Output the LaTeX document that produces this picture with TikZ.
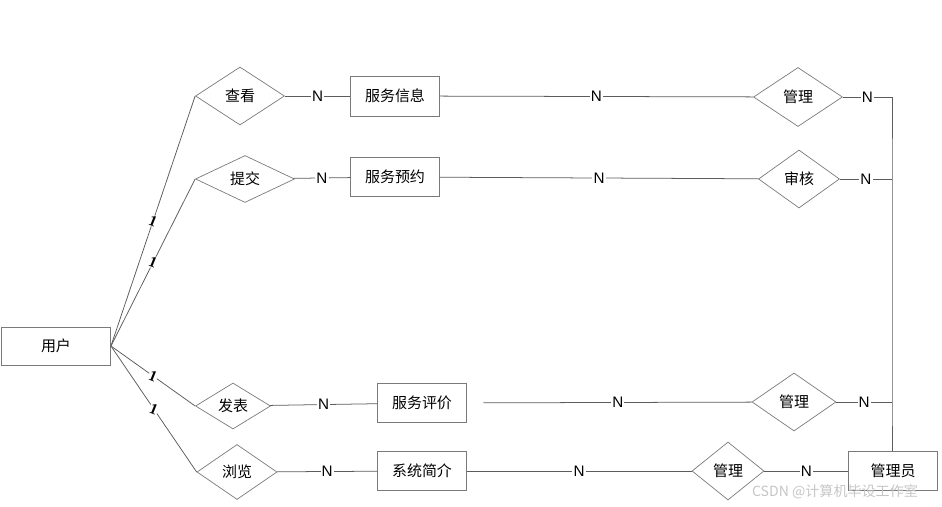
\documentclass[tikz,border=0pt]{standalone}
\usepackage{fontspec}
\usetikzlibrary{shapes.geometric}
\newfontfamily\cjk{Noto Sans CJK SC}
\newfontfamily\nfont{Liberation Sans}
\newfontfamily\onefont{Liberation Serif}
\definecolor{linegray}{rgb}{0.36, 0.36, 0.36}
\definecolor{boxgray}{rgb}{0.48, 0.48, 0.48}
\tikzstyle{entity} = [rectangle, minimum width=2.65cm, minimum height=1.18cm, text centered, draw=boxgray, line width=0.75pt, font=\cjk\fontsize{12.8}{15}\selectfont]
\tikzstyle{relation} = [diamond, aspect=1.6, inner sep=0pt, text centered, draw=boxgray, line width=0.6pt, font=\cjk\fontsize{12.8}{15}\selectfont]
\tikzstyle{line} = [draw=linegray, line width=0.65pt]
\tikzstyle{many} = [fill=white, inner sep=1pt, font=\nfont\fontsize{13}{13}\selectfont]
\tikzstyle{one} = [fill=white, inner sep=0.5pt, rotate=-22, font=\onefont\bfseries\fontsize{13}{13}\selectfont]

\begin{document}
\begin{tikzpicture}[x=0.03cm, y=-0.03cm]
\useasboundingbox (0,0) rectangle (942,507);

% Nodes
\node (user) [entity, minimum width=3.27cm, minimum height=1.14cm] at (56,346) {用户};

\node (look) [relation, minimum width=2.67cm, minimum height=1.74cm] at (240,96) {查看};
\node (submit) [relation, minimum width=2.97cm, minimum height=1.41cm] at (245,179) {提交};
\node (publish) [relation, minimum width=2.25cm, minimum height=1.38cm] at (233,406) {发表};
\node (browse) [relation, minimum width=2.4cm, minimum height=1.65cm] at (237,472) {浏览};

\node (info) [entity, minimum height=1.2cm] at (395,96) {服务信息};
\node (booking) [entity] at (395,177) {服务预约};
\node (review) [entity] at (422,403) {服务评价};
\node (intro) [entity] at (422,471) {系统简介};

\node (manage1) [relation, minimum width=2.67cm, minimum height=1.77cm] at (798,97) {管理};
\node (audit) [relation, minimum width=2.43cm, minimum height=1.74cm] at (799,179) {审核};
\node (manage3) [relation, minimum width=2.52cm, minimum height=1.74cm] at (794,402) {管理};
\node (manage4) [relation, minimum width=2.16cm, minimum height=1.74cm] at (728,471) {管理};

\node (admin) [entity] at (893,471) {管理员};

\coordinate (anchor1) at (892,97);
\coordinate (anchor2) at (892,179);
\coordinate (anchor3) at (892,402);

% Arrows
\draw [line] (user.east) -- node[one] {1} (look.west);
\draw [line] (user.east) -- node[one] {1} (submit.west);
\draw [line] (user.east) -- node[one] {1} (publish.west);
\draw [line] (user.east) -- node[one] {1} (browse.west);

\draw [line] (look) -- node[many] {N} (info);
\draw [line] (submit) -- node[many] {N} (booking);
\draw [line] (publish) -- node[many] {N} (review);
\draw [line] (browse) -- node[many] {N} (intro);

\draw [line] (info) -- node[many] {N} (manage1);
\draw [line] (booking) -- node[many] {N} (audit);
\draw [line, shorten <=0.5cm] (review) -- node[many, pos=0.53] {N} (manage3);
\draw [line] (intro) -- node[many] {N} (manage4);

\draw [line] (manage1) -- node[many] {N} (anchor1);
\draw [line] (audit) -- node[many] {N} (anchor2);
\draw [line] (manage3) -- node[many] {N} (anchor3);
\draw [line] (manage4) -- node[many] {N} (admin);

\draw [line] (anchor1) -- (anchor2) -- (anchor3) -- (admin.north -| anchor1);

\node (mark) [text=gray!45, font=\cjk\fontsize{12}{14}\selectfont] at (835,492) {CSDN @计算机毕设工作室};

\end{tikzpicture}
\end{document}
